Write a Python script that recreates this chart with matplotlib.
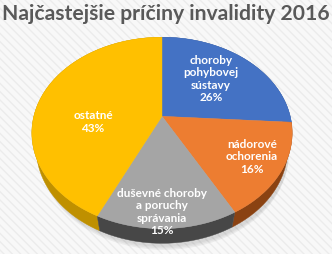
import matplotlib.pyplot as plt
from matplotlib.patches import Polygon, Rectangle
import numpy as np


title = "Najčastejšie príčiny invalidity 2016"
categories = ["choroby\npohybovej\nsústavy", "nádorové\nochorenia",
              "duševné choroby\na poruchy\nsprávania", "ostatné"]
values = [26, 16, 15, 43]

top_colors = ["#4472C4", "#ED7D31", "#A5A5A5", "#FFC000"]
side_colors = ["#2F528F", "#8A4212", "#474747", "#BF9000"]
# label anchor points in pixels (layout, not data)
label_xy = [(211, 79), (252, 157), (162, 212), (93, 122)]

# camera for the tilted pie
TILT = np.radians(46.4)
DIST = 3.97
FOCAL = 508.8
THICK = 0.186
CX, CY = 162.0, 117.3


def project(u, v, h=0.0):
    c, s = np.cos(TILT), np.sin(TILT)
    depth = DIST + v * c - h * s
    sx = u * FOCAL / depth
    sy = (v * s + h * c) * FOCAL / depth
    return CX + sx, CY - sy


def arc(a0, a1, h=0.0, n=80):
    t = np.linspace(a0, a1, n)
    return project(np.cos(t), np.sin(t), h)


fig = plt.figure(figsize=(3.32, 2.55), dpi=100)
fig.patch.set_facecolor("#F7F7F7")
ax = fig.add_axes([0, 0, 1, 1])
ax.set_xlim(0, 332)
ax.set_ylim(255, 0)
ax.axis("off")

# faint diagonal stripes of the background
ax.add_patch(Rectangle((0, 0), 332, 255, facecolor="#F8F8F8",
                       edgecolor="#ECECEC", hatch="\\\\\\\\", linewidth=0, zorder=0))

fracs = np.array(values, dtype=float) / sum(values)
bounds = np.concatenate([[0], np.cumsum(fracs)])
angles = np.radians(90 - 360 * bounds)  # clockwise from 12 o'clock

# soft shadow under the pie
for k, alpha in enumerate([0.04, 0.04, 0.05]):
    sx, sy = arc(0, 2 * np.pi, h=-THICK - 0.02 - 0.02 * k, n=200)
    ax.add_patch(Polygon(np.column_stack([sx + 2, sy + 2]), closed=True,
                         facecolor="#000000", alpha=alpha, linewidth=0, zorder=1))

# outer walls, back to front
order = sorted(range(len(values)), key=lambda i: -np.sin((angles[i] + angles[i + 1]) / 2))
for i in order:
    tx, ty = arc(angles[i], angles[i + 1])
    bx, by = arc(angles[i + 1], angles[i], h=-THICK)
    pts = np.column_stack([np.concatenate([tx, bx]), np.concatenate([ty, by])])
    ax.add_patch(Polygon(pts, closed=True, facecolor=side_colors[i],
                         edgecolor=side_colors[i], linewidth=0.3, zorder=2))

# top faces
cx0, cy0 = project(0.0, 0.0)
for i in range(len(values)):
    tx, ty = arc(angles[i], angles[i + 1])
    pts = np.column_stack([np.concatenate([[cx0], tx]), np.concatenate([[cy0], ty])])
    ax.add_patch(Polygon(pts, closed=True, facecolor=top_colors[i],
                         edgecolor=top_colors[i], linewidth=0.3, zorder=3))

for i, (lx, ly) in enumerate(label_xy):
    ax.text(lx, ly, f"{categories[i]}\n{values[i]}%", ha="center", va="center",
            color="white", fontsize=8.5, fontweight="bold", family="Lato",
            linespacing=1.12, zorder=4)

ax.text(165.5, 14, title, ha="center", va="center", color="#595959",
        fontsize=15.2, fontweight="bold", family="Lato", zorder=4)

fig.savefig("out.png", dpi=100, facecolor=fig.get_facecolor())
